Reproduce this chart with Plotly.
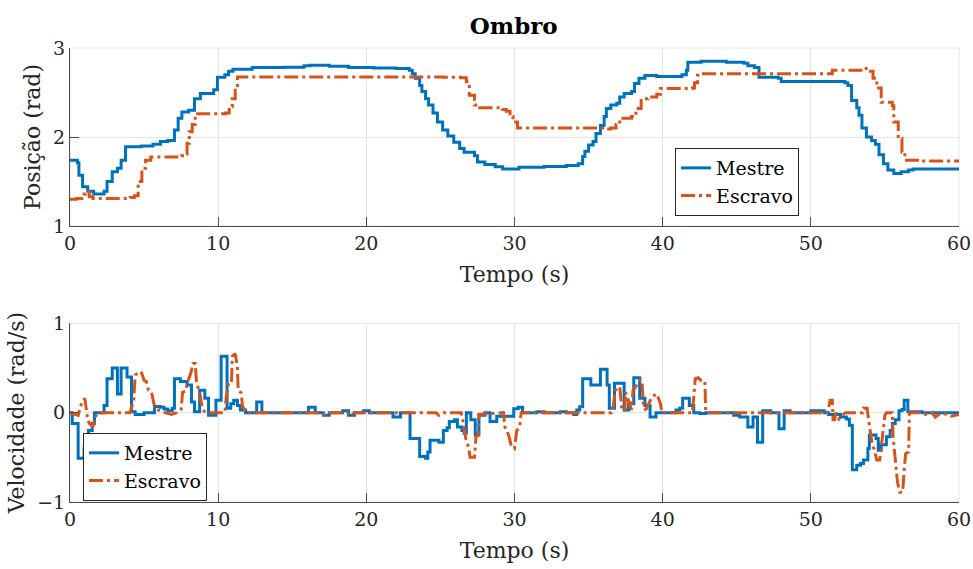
import plotly.graph_objects as go
from plotly.subplots import make_subplots

# ---------------- data ----------------
title_text = "Ombro"
x_ticks = [0, 10, 20, 30, 40, 50, 60]
pos_ticks = [1, 2, 3]
vel_ticks = [-1, 0, 1]
series_names = ["Mestre", "Escravo"]

# Position - Mestre (step values, value holds from t)
pos_m_t = [0, 0.5, 0.6, 0.85, 1.2, 1.6, 2.3, 2.5, 2.85, 3.2, 3.45, 3.75, 4.8, 5.6, 6.1, 6.6,
           7.05, 7.3, 7.55, 8.0, 8.4, 8.8, 9.7, 9.95, 10.45, 10.7, 11.0, 12.3, 14.5, 15.8,
           16.2, 17.5, 18.8, 20.5, 22.0, 22.9, 23.1, 23.3, 23.6, 23.75, 24.0, 24.2, 24.5,
           24.8, 25.15, 25.5, 25.9, 26.3, 26.6, 27.3, 27.5, 28.0, 28.7, 29.2, 30.3, 32.0,
           33.5, 34.3, 34.6, 34.75, 35.0, 35.3, 35.5, 35.8, 36.05, 36.2, 36.5, 36.9, 37.1,
           37.4, 37.9, 38.1, 38.4, 38.8, 39.6, 40.6, 41.3, 41.6, 41.7, 42.6, 44.3, 45.5,
           45.75, 46.2, 46.5, 47.8, 48.0, 52.3, 52.5, 52.75, 53.1, 53.25, 53.45, 53.75,
           54.1, 54.35, 54.6, 54.9, 55.2, 55.6, 56.1, 56.6, 56.9, 60]
pos_m_v = [1.74, 1.71, 1.57, 1.44, 1.39, 1.36, 1.39, 1.50, 1.61, 1.65, 1.74, 1.89, 1.90, 1.92,
           1.95, 1.96, 2.08, 2.21, 2.28, 2.30, 2.43, 2.49, 2.53, 2.67, 2.70, 2.74, 2.76, 2.78,
           2.785, 2.80, 2.805, 2.795, 2.78, 2.775, 2.77, 2.75, 2.71, 2.66, 2.58, 2.51, 2.43,
           2.36, 2.27, 2.17, 2.08, 2.01, 1.94, 1.87, 1.83, 1.79, 1.72, 1.69, 1.665, 1.64,
           1.66, 1.67, 1.68, 1.70, 1.78, 1.84, 1.91, 1.95, 2.04, 2.13, 2.23, 2.32, 2.36,
           2.38, 2.45, 2.49, 2.51, 2.60, 2.66, 2.69, 2.68, 2.68, 2.70, 2.75, 2.84, 2.85,
           2.84, 2.83, 2.80, 2.78, 2.67, 2.66, 2.625, 2.61, 2.58, 2.41, 2.33, 2.245, 2.10,
           2.00, 1.96, 1.92, 1.80, 1.70, 1.63, 1.59, 1.61, 1.63, 1.64, 1.64]

# Position - Escravo
pos_e_t = [0, 0.45, 0.8, 1.05, 1.3, 1.55, 4.05, 4.35, 4.6, 4.85, 5.1, 5.45, 7.5, 7.7, 7.9,
           8.05, 8.25, 8.45, 10.5, 10.75, 10.95, 11.15, 11.3, 25.2, 26.4, 26.75, 26.95,
           27.3, 27.65, 29.2, 29.45, 29.7, 29.9, 30.2, 36.1, 36.5, 36.85, 37.1, 37.9, 38.2,
           38.55, 39.0, 39.6, 39.85, 42.0, 42.15, 42.35, 42.6, 51.2, 51.45, 53.2, 53.5,
           53.85, 54.2, 54.45, 54.75, 55.5, 55.6, 55.9, 56.15, 56.35, 57.5, 60]
pos_e_v = [1.30, 1.31, 1.36, 1.385, 1.33, 1.31, 1.32, 1.34, 1.50, 1.65, 1.74, 1.775, 1.79,
           1.81, 1.93, 2.06, 2.14, 2.26, 2.27, 2.34, 2.43, 2.55, 2.675, 2.67, 2.665, 2.62,
           2.47, 2.36, 2.33, 2.31, 2.29, 2.23, 2.17, 2.10, 2.09, 2.10, 2.14, 2.21, 2.23,
           2.32, 2.43, 2.45, 2.48, 2.545, 2.55, 2.61, 2.695, 2.71, 2.71, 2.75, 2.75, 2.77,
           2.74, 2.66, 2.55, 2.39, 2.35, 2.17, 1.985, 1.83, 1.74, 1.73, 1.73]

# Velocity - Mestre (step values)
vel_m_t = [0, 0.15, 0.55, 0.95, 1.25, 1.5, 1.65, 2.3, 2.5, 2.85, 3.2, 3.45, 3.85, 4.15, 4.4,
           5.0, 5.7, 6.1, 6.35, 6.6, 6.9, 7.05, 7.45, 7.9, 8.2, 8.4, 8.75, 9.1, 9.35, 9.85,
           10.2, 10.6, 10.85, 11.05, 11.3, 11.5, 11.85, 12.6, 12.95, 16.1, 16.55, 17.1,
           17.5, 18.4, 18.8, 19.2, 19.8, 20.2, 21.8, 22.3, 22.95, 23.6, 24.0, 24.15, 24.3,
           24.9, 25.2, 25.45, 25.6, 25.95, 26.15, 26.45, 26.6, 26.75, 27.05, 27.35, 27.6,
           28.0, 28.35, 28.8, 29.95, 30.25, 30.55, 31.5, 32.0, 33.1, 33.5, 34.0, 34.2, 34.4,
           34.6, 35.15, 35.8, 36.25, 36.4, 36.75, 37.4, 37.7, 38.05, 38.45, 38.8, 39.15,
           39.55, 40.9, 41.15, 41.35, 41.8, 42.1, 42.5, 42.9, 44.8, 45.2, 45.75, 46.1, 46.4,
           46.75, 47.3, 47.85, 48.2, 48.6, 50.0, 50.9, 51.2, 52.0, 52.4, 52.6, 52.8, 53.1,
           53.35, 53.55, 53.85, 53.95, 54.4, 54.55, 54.75, 55.1, 55.35, 55.5, 55.7, 55.95,
           56.15, 56.3, 56.55, 57.5, 60]
vel_m_v = [0, -0.12, -0.51, -0.40, -0.20, -0.12, 0, 0.08, 0.38, 0.50, 0.21, 0.50, 0.40, 0.01,
           -0.02, 0, 0.07, 0.06, 0.04, 0.02, 0.05, 0.38, 0.35, 0.31, 0.12, 0.01, 0.25, 0.16,
           -0.03, 0.14, 0.63, 0.05, 0.10, 0.14, 0.08, 0.03, 0, 0.12, 0, 0.06, 0, -0.03, 0,
           0.02, -0.03, 0, 0.02, 0, -0.05, 0, -0.29, -0.49, -0.51, -0.44, -0.31, -0.33,
           -0.20, -0.17, -0.10, -0.08, -0.16, -0.20, -0.23, 0, -0.08, -0.25, -0.03, 0,
           -0.10, -0.04, 0.045, 0.06, 0, 0.01, 0, 0.01, 0, -0.02, 0.03, 0.065, 0.38, 0.31,
           0.485, 0.31, 0.05, 0.33, 0.03, 0.10, 0.39, 0.16, 0.08, -0.05, 0, 0.03, 0.05, 0.16,
           0.08, 0, -0.01, 0, -0.03, -0.05, -0.16, -0.05, -0.33, 0.02, 0, -0.18, 0.02, 0,
           0.02, 0, -0.02, -0.05, -0.07, -0.14, -0.64, -0.59, -0.57, -0.53, -0.40, -0.25,
           -0.29, -0.42, -0.36, -0.27, -0.20, -0.12, -0.08, 0.02, 0.035, 0.14, 0.01, 0, 0]

# Velocity - Escravo
vel_e_t = [0, 0.55, 0.8, 1.0, 1.2, 1.3, 1.55, 1.7, 1.9, 4.05, 4.3, 4.4, 4.7, 4.85, 5.0, 5.15,
           5.3, 5.5, 5.7, 5.95, 6.4, 6.85, 7.2, 7.5, 7.6, 7.8, 7.95, 8.15, 8.3, 8.45, 8.55,
           8.65, 8.75, 8.9, 9.1, 10.45, 10.55, 10.7, 10.9, 10.95, 11.15, 11.3, 11.35, 11.55,
           11.65, 11.9, 17.0, 17.2, 17.6, 18.7, 18.9, 19.2, 24.7, 24.9, 25.2, 26.4, 26.5,
           26.65, 26.75, 26.9, 27.0, 27.3, 27.4, 27.55, 27.6, 29.25, 29.35, 29.6, 29.8, 30.0,
           30.15, 30.35, 30.45, 36.55, 36.65, 36.8, 37.1, 37.25, 37.45, 37.5, 37.8, 37.9,
           38.0, 38.25, 38.5, 38.6, 38.7, 38.85, 39.1, 39.3, 39.6, 39.85, 39.95, 42.0, 42.1,
           42.2, 42.4, 42.65, 42.85, 42.9, 43.0, 51.1, 51.2, 51.3, 51.45, 51.5, 51.6, 51.7,
           51.9, 52.1, 52.35, 53.5, 53.55, 53.8, 53.9, 54.1, 54.35, 54.45, 54.65, 54.75, 54.9,
           55.0, 55.1, 55.5, 55.55, 55.7, 55.85, 56.0, 56.2, 56.3, 56.4, 56.6, 56.65, 57.3,
           58.0, 58.2, 58.4, 58.8, 59.5, 60]
vel_e_v = [0, -0.03, 0.12, 0.16, -0.08, -0.12, -0.16, -0.05, 0, 0, 0.14, 0.42, 0.46, 0.44,
           0.36, 0.35, 0.25, 0.23, 0.07, 0.03, 0, -0.02, 0, 0.04, 0.23, 0.24, 0.35, 0.44, 0.55,
           0.55, 0.31, 0.28, 0.23, 0.07, 0, 0, 0.18, 0.33, 0.33, 0.63, 0.66, 0.51, 0.25, 0.22,
           0.07, 0, 0, -0.03, 0, 0, -0.03, 0, 0, -0.03, 0, 0, -0.08, -0.22, -0.33, -0.38,
           -0.50, -0.50, -0.27, -0.25, -0.02, 0, -0.16, -0.25, -0.38, -0.40, -0.20, -0.16, 0,
           0, 0.05, 0.25, 0.29, 0.03, 0.03, 0.23, 0.07, 0.03, 0.25, 0.31, 0.37, 0.36, 0.07,
           0.03, 0.12, 0.18, 0.21, 0.10, 0, 0, 0.18, 0.38, 0.39, 0.35, 0.35, 0.03, 0, 0, 0.05,
           0.14, 0.14, -0.08, -0.08, 0, -0.07, -0.03, 0, 0, 0.05, 0.05, -0.08, -0.31, -0.46,
           -0.53, -0.53, -0.38, -0.20, -0.03, 0, 0, -0.27, -0.53, -0.78, -0.89, -0.89, -0.64,
           -0.46, -0.44, 0, 0, -0.03, 0, -0.05, 0, -0.04, -0.02]

# ---------------- figure ----------------
BLUE = "#0072BD"
ORANGE = "#D95319"
DASHDOT = "14px,4px,3px,4px"
SERIF = "DejaVu Serif"
TICKFONT = dict(family=SERIF, size=19, color="#262626")
TITLEFONT = dict(family=SERIF, size=22, color="#262626")
LEGFONT = dict(family=SERIF, size=19, color="#000000")

fig = make_subplots(rows=2, cols=1, vertical_spacing=0.2145, shared_xaxes=False)

fig.add_trace(go.Scatter(x=pos_m_t, y=pos_m_v, mode="lines", name=series_names[0],
                         line=dict(color=BLUE, width=3, shape="hv"), legend="legend"),
              row=1, col=1)
fig.add_trace(go.Scatter(x=pos_e_t, y=pos_e_v, mode="lines", name=series_names[1],
                         line=dict(color=ORANGE, width=3, shape="hv", dash=DASHDOT),
                         legend="legend"), row=1, col=1)
fig.add_trace(go.Scatter(x=vel_m_t, y=vel_m_v, mode="lines", name=series_names[0],
                         line=dict(color=BLUE, width=3, shape="hv"), legend="legend2"),
              row=2, col=1)
fig.add_trace(go.Scatter(x=vel_e_t, y=vel_e_v, mode="lines", name=series_names[1],
                         line=dict(color=ORANGE, width=3, dash=DASHDOT), legend="legend2"),
              row=2, col=1)

top_dom = [0.6079, 1.0]
bot_dom = [0.0, 0.3936]

axis_common = dict(showline=True, linecolor="#4d4d4d", linewidth=1, ticks="inside",
                   ticklen=9, tickcolor="#4d4d4d", tickwidth=1, showgrid=True,
                   gridcolor="#e6e6e6", gridwidth=1, zeroline=False, tickfont=TICKFONT,
                   mirror=False, automargin=False)

fig.update_xaxes(range=[0, 60], tickvals=x_ticks, **axis_common)
fig.update_xaxes(domain=[0, 1], title=dict(text="Tempo (s)", font=TITLEFONT, standoff=13),
                 row=1, col=1)
fig.update_xaxes(domain=[0, 1], title=dict(text="Tempo (s)", font=TITLEFONT, standoff=13),
                 row=2, col=1)
fig.update_yaxes(**axis_common)
fig.update_yaxes(range=[1, 3], tickvals=pos_ticks, domain=top_dom,
                 title=dict(text="Posição (rad)", font=TITLEFONT, standoff=6), row=1, col=1)
fig.update_yaxes(range=[-1, 1], tickvals=vel_ticks, domain=bot_dom,
                 title=dict(text="Velocidade (rad/s)", font=TITLEFONT, standoff=6),
                 row=2, col=1)

# light box edges (top / right)
for xr, yr in (("x domain", "y domain"), ("x2 domain", "y2 domain")):
    fig.add_shape(type="rect", xref=xr, yref=yr, x0=0, x1=1, y0=0, y1=1,
                  line=dict(color="#e6e6e6", width=1), layer="below")

fig.update_layout(
    width=973, height=569,
    margin=dict(l=70, r=14, t=48, b=67),
    paper_bgcolor="white", plot_bgcolor="white",
    title=dict(text="<b>" + title_text + "</b>", x=0.528, xanchor="center", y=0.955,
               yanchor="middle", font=dict(family=SERIF, size=23, color="#000000")),
    legend=dict(x=0.6806, y=0.7797, xanchor="left", yanchor="top", bgcolor="white",
                bordercolor="#262626", borderwidth=1, font=LEGFONT, tracegroupgap=0,
                itemwidth=30),
    legend2=dict(x=0.0146, y=0.152, xanchor="left", yanchor="top", bgcolor="white",
                 bordercolor="#262626", borderwidth=1, font=LEGFONT, tracegroupgap=0,
                 itemwidth=30),
)

fig.write_html("out.html")
